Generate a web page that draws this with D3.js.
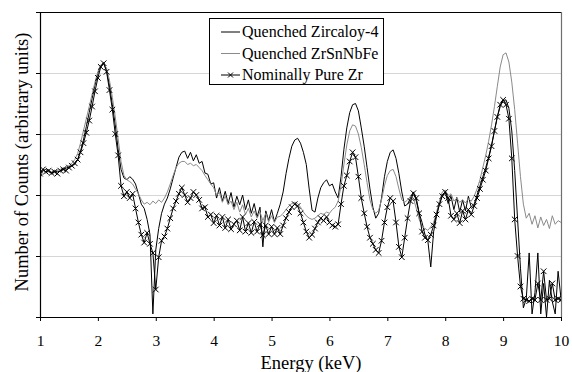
<!DOCTYPE html>
<html><head><meta charset="utf-8">
<script src="https://cdn.jsdelivr.net/npm/d3@7"></script>
<style>html,body{margin:0;padding:0;background:#fff;} svg{display:block;} svg text{font-family:"Liberation Serif","Times New Roman",Times,serif;}</style>
</head><body>
<svg id="chart" width="572" height="372"></svg>
<script>
// ---- data ----
const energy = [
1,1.05,1.1,1.15,1.2,1.25,1.3,1.35,1.4,1.45,
1.5,1.55,1.6,1.65,1.7,1.75,1.8,1.85,1.9,1.95,
2,2.05,2.1,2.15,2.2,2.25,2.3,2.35,2.4,2.45,
2.5,2.55,2.6,2.65,2.7,2.75,2.8,2.85,2.9,2.95,
3,3.05,3.1,3.15,3.2,3.25,3.3,3.35,3.4,3.45,
3.5,3.55,3.6,3.65,3.7,3.75,3.8,3.85,3.9,3.95,
4,4.05,4.1,4.15,4.2,4.25,4.3,4.35,4.4,4.45,
4.5,4.55,4.6,4.65,4.7,4.75,4.8,4.85,4.9,4.95,
5,5.05,5.1,5.15,5.2,5.25,5.3,5.35,5.4,5.45,
5.5,5.55,5.6,5.65,5.7,5.75,5.8,5.85,5.9,5.95,
6,6.05,6.1,6.15,6.2,6.25,6.3,6.35,6.4,6.45,
6.5,6.55,6.6,6.65,6.7,6.75,6.8,6.85,6.9,6.95,
7,7.05,7.1,7.15,7.2,7.25,7.3,7.35,7.4,7.45,
7.5,7.55,7.6,7.65,7.7,7.75,7.8,7.85,7.9,7.95,
8,8.05,8.1,8.15,8.2,8.25,8.3,8.35,8.4,8.45,
8.5,8.55,8.6,8.65,8.7,8.75,8.8,8.85,8.9,8.95,
9,9.05,9.1,9.15,9.2,9.25,9.3,9.35,9.4,9.45,
9.5,9.55,9.6,9.65,9.7,9.75,9.8,9.85,9.9,9.95,
10];

const zircaloy4 = [
2.28,2.40,2.42,2.38,2.36,2.40,2.38,2.39,2.42,2.44,
2.46,2.48,2.50,2.58,2.72,2.90,3.12,3.35,3.58,3.80,
4.00,4.13,4.17,4.05,3.80,3.48,3.15,2.75,2.42,2.28,
2.25,2.30,2.26,2.18,2.02,1.85,1.78,1.60,1.35,0.05,
1.10,1.45,1.70,1.85,1.95,2.10,2.28,2.45,2.62,2.70,
2.72,2.60,2.70,2.56,2.66,2.52,2.55,2.36,2.34,2.18,
2.20,1.95,2.12,1.90,2.06,1.86,2.04,1.80,1.98,1.84,
2.00,1.76,1.92,1.70,1.86,1.64,1.80,1.15,1.74,1.58,
1.76,1.56,1.70,1.85,2.05,2.35,2.60,2.80,2.90,2.93,
2.85,2.70,2.50,2.10,1.75,1.72,1.95,2.12,2.20,2.25,
2.15,2.18,2.05,1.95,2.30,2.75,3.10,3.35,3.48,3.50,
3.38,3.10,2.80,2.45,2.10,1.80,1.62,1.70,1.95,2.30,
2.55,2.70,2.74,2.60,2.35,2.05,1.82,1.85,1.95,2.05,
1.90,1.70,1.55,1.35,1.25,0.82,1.40,1.65,1.85,2.00,
2.05,1.86,1.98,1.76,1.96,1.72,1.92,1.74,1.98,1.80,
1.85,2.00,2.15,2.30,2.45,2.62,2.82,3.05,3.28,3.45,
3.55,3.56,3.42,3.05,2.40,1.60,0.80,0.15,0.30,1.05,
0.05,0.40,1.05,0.05,0.55,0.00,0.60,0.25,0.05,0.75,
0.30];

const zrSnNbFe = [
2.30,2.40,2.38,2.40,2.38,2.40,2.40,2.42,2.44,2.46,
2.48,2.52,2.58,2.68,2.85,3.05,3.25,3.45,3.65,3.85,
4.02,4.13,4.15,4.08,3.88,3.60,3.28,2.92,2.55,2.32,
2.25,2.22,2.18,2.10,2.02,1.92,1.85,1.88,1.84,1.90,
1.86,1.92,1.88,1.95,2.05,2.18,2.32,2.45,2.52,2.55,
2.55,2.50,2.52,2.48,2.50,2.45,2.40,2.32,2.25,2.18,
2.12,2.00,2.04,1.88,1.98,1.84,1.90,1.76,1.88,1.72,
1.84,1.68,1.78,1.64,1.74,1.62,1.72,1.58,1.70,1.56,
1.66,1.55,1.64,1.65,1.70,1.76,1.82,1.86,1.88,1.86,
1.80,1.72,1.66,1.62,1.60,1.62,1.66,1.70,1.68,1.72,
1.70,1.76,1.80,1.90,2.15,2.50,2.82,3.05,3.15,3.13,
3.00,2.78,2.50,2.20,1.92,1.76,1.70,1.75,1.92,2.15,
2.32,2.40,2.42,2.30,2.10,1.92,1.88,1.92,1.98,1.95,
1.78,1.60,1.48,1.45,1.42,1.48,1.55,1.72,1.90,2.05,
2.08,1.98,2.02,1.90,1.95,1.88,1.92,1.87,1.94,1.90,
1.98,2.10,2.25,2.45,2.65,2.88,3.15,3.45,3.78,4.10,
4.30,4.33,4.18,3.85,3.40,2.85,2.30,1.85,1.62,1.70,
1.52,1.66,1.46,1.64,1.50,1.60,1.45,1.66,1.52,1.58,
1.55];

const pureZr = [
2.35,2.42,2.38,2.40,2.36,2.38,2.35,2.40,2.42,2.40,
2.45,2.48,2.52,2.58,2.70,2.85,3.02,3.22,3.45,3.70,
3.92,4.10,4.16,4.02,3.72,3.40,3.00,2.65,2.15,1.98,
2.05,1.95,2.02,1.78,1.55,1.35,1.22,1.38,1.20,1.05,
0.45,0.98,1.25,1.32,1.45,1.62,1.78,1.90,2.02,2.12,
2.00,1.88,1.95,2.05,2.00,1.92,1.78,1.80,1.64,1.68,
1.54,1.66,1.50,1.64,1.46,1.60,1.44,1.52,1.58,1.42,
1.64,1.40,1.54,1.38,1.56,1.40,1.52,1.34,1.50,1.36,
1.48,1.36,1.46,1.36,1.50,1.62,1.72,1.80,1.85,1.82,
1.70,1.55,1.40,1.30,1.35,1.45,1.55,1.62,1.58,1.64,
1.55,1.50,1.48,1.52,1.85,2.15,2.32,2.55,2.70,2.62,
2.30,1.95,1.70,1.48,1.30,1.20,1.10,1.05,1.25,1.55,
1.80,1.95,1.90,1.55,1.15,0.98,1.30,1.62,1.90,2.03,
1.95,1.70,1.40,1.30,1.26,1.35,1.50,1.68,1.85,1.98,
2.05,1.95,1.66,1.60,1.70,1.54,1.74,1.60,1.76,1.68,
1.82,1.95,2.10,2.25,2.40,2.60,2.80,3.05,3.28,3.48,
3.56,3.48,3.25,2.60,1.60,1.00,0.50,0.30,0.28,0.26,
0.30,0.28,0.55,0.28,0.75,0.28,0.30,0.55,0.28,0.30,
0.28];

const xTicks = [1,2,3,4,5,6,7,8,9,10];
const yTicks = [0,1,2,3,4,5];
const gridValues = [1,2,3,4];
const seriesNames = ["Quenched Zircaloy-4","Quenched ZrSnNbFe","Nominally Pure Zr"];

// ---- chart ----
const FONT = '"Liberation Serif","Times New Roman",Times,serif';
const svg = d3.select("#chart");
const x = d3.scaleLinear().domain([1,10]).range([40,561]);
const y = d3.scaleLinear().domain([0,5]).range([317,12]);

svg.append("defs").append("clipPath").attr("id","plotclip")
  .append("rect").attr("x",40).attr("y",12).attr("width",521).attr("height",305);

// gridlines
svg.append("g").selectAll("line").data(gridValues).join("line")
  .attr("x1",x(1)).attr("x2",x(10))
  .attr("y1",d=>Math.round(y(d))+0.5).attr("y2",d=>Math.round(y(d))+0.5)
  .attr("stroke","#d6d6d6").attr("stroke-width",1.2);

// top border and right border
svg.append("line").attr("x1",x(1)).attr("x2",x(10)+0.5)
  .attr("y1",Math.round(y(5))+0.5).attr("y2",Math.round(y(5))+0.5)
  .attr("stroke","#000").attr("stroke-width",1.2);
svg.append("line").attr("x1",Math.round(x(10))+0.5).attr("x2",Math.round(x(10))+0.5)
  .attr("y1",y(5)).attr("y2",y(0))
  .attr("stroke","#6e6e6e").attr("stroke-width",1.2);

// series
const plot = svg.append("g").attr("clip-path","url(#plotclip)");
const line = d3.line().x((d,i)=>x(energy[i])).y(d=>y(d));
plot.append("path").datum(zircaloy4).attr("d",line)
  .attr("fill","none").attr("stroke","#000").attr("stroke-width",1);
plot.append("path").datum(zrSnNbFe).attr("d",line)
  .attr("fill","none").attr("stroke","#8a8a8a").attr("stroke-width",1);
plot.append("path").datum(pureZr).attr("d",line)
  .attr("fill","none").attr("stroke","#000").attr("stroke-width",1);
const XM = "M-2.8,-2.8L2.8,2.8M-2.8,2.8L2.8,-2.8";
plot.append("g").selectAll("path").data(pureZr).join("path")
  .attr("transform",(d,i)=>`translate(${x(energy[i])},${y(d)})`)
  .attr("d",XM).attr("stroke","#000").attr("stroke-width",1).attr("fill","none");

// axes
const yAxis = svg.append("g").attr("transform","translate(40,0)")
  .call(d3.axisLeft(y).tickValues(yTicks).tickSize(4).tickSizeOuter(0).tickFormat(""));
yAxis.select(".domain").attr("stroke","#000").attr("stroke-width",1.2);

const xAxis = svg.append("g").attr("transform","translate(0,317)")
  .call(d3.axisBottom(x).tickValues(xTicks).tickSize(4).tickSizeOuter(0).tickPadding(14).tickFormat(d3.format("d")));
xAxis.attr("font-family",null);
xAxis.select(".domain").attr("stroke","#000").attr("stroke-width",1.2);
xAxis.selectAll("text").style("font-family",FONT).style("font-size","15.5px").attr("fill","#000");

// axis titles
svg.append("text").attr("x",311).attr("y",369).attr("text-anchor","middle")
  .style("font-family",FONT).style("font-size","18.5px").attr("fill","#000").text("Energy (keV)");
svg.append("text").attr("transform","translate(28,162) rotate(-90)").attr("text-anchor","middle")
  .style("font-family",FONT).style("font-size","18.5px").attr("fill","#000").text("Number of Counts (arbitrary units)");

// legend
const lg = svg.append("g");
lg.append("rect").attr("x",209.5).attr("y",18.5).attr("width",174).attr("height",66)
  .attr("fill","#fff").attr("stroke","#000").attr("stroke-width",1);
const legendY = [32, 53.5, 75];
const legendColor = ["#000","#8a8a8a","#000"];
seriesNames.forEach((name,i)=>{
  lg.append("line").attr("x1",221).attr("x2",240).attr("y1",legendY[i]).attr("y2",legendY[i])
    .attr("stroke",legendColor[i]).attr("stroke-width",1);
  if(i===2){
    lg.append("path").attr("transform",`translate(230.5,${legendY[i]})`).attr("d","M-2.5,-2.5L2.5,2.5M-2.5,2.5L2.5,-2.5")
      .attr("stroke","#000").attr("stroke-width",1);
  }
  lg.append("text").attr("x",242).attr("y",legendY[i]+5)
    .style("font-family",FONT).style("font-size","16px").attr("fill","#000").text(name);
});
</script>
</body></html>
